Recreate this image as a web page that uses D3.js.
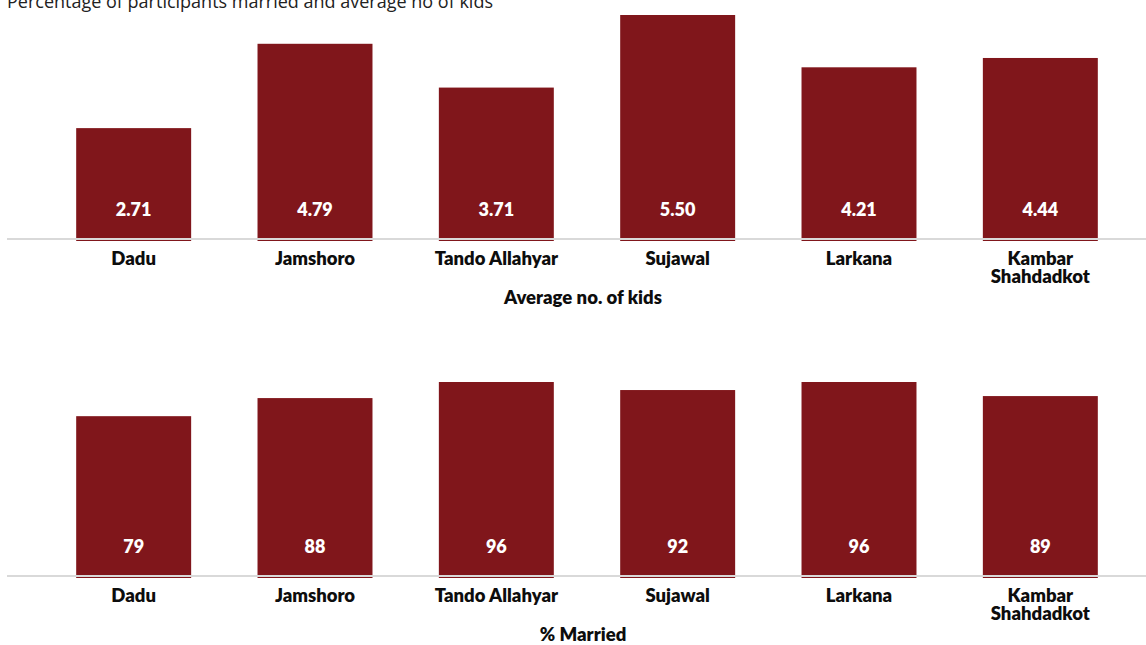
<!DOCTYPE html>
<html>
<head>
<meta charset="utf-8">
<script src="https://cdn.jsdelivr.net/npm/d3@7"></script>
<style>
  body { margin: 0; background: #fff; }
  svg { display: block; }
</style>
</head>
<body>
<svg id="chart"></svg>
<script>
// data
var districts = ["Dadu", "Jamshoro", "Tando Allahyar", "Sujawal", "Larkana", "Kambar Shahdadkot"]
var avgKids = [2.71, 4.79, 3.71, 5.50, 4.21, 4.44]
var pctMarried = [79, 88, 96, 92, 96, 89]
var titleText = "Percentage of participants married and average no of kids"

const width = 1146, height = 645
const barColor = "#80161b"
const labelFont = "Lato, 'Source Sans Pro', sans-serif"

const svg = d3.select("#chart")
  .attr("width", width)
  .attr("height", height)

// title, cut off at the top like in the original
svg.append("text")
  .attr("x", 7)
  .attr("y", 8)
  .attr("font-family", "'Open Sans', sans-serif")
  .attr("font-size", 18)
  .attr("fill", "#222")
  .text(titleText)

// shared x scale
const x = d3.scaleBand()
  .domain(districts)
  .range([43, 1131])
  .paddingInner(0.366)
  .paddingOuter(0.183)

function drawPanel(values, fmt, base, top, maxVal, axisTitle) {
  const y = d3.scaleLinear().domain([0, maxVal]).range([base, top])
  const g = svg.append("g")
  const rows = districts.map((d, i) => ({ name: d, value: values[i] }))

  // bars
  g.selectAll("rect.bar")
    .data(rows)
    .enter().append("rect")
    .attr("class", "bar")
    .attr("x", d => x(d.name))
    .attr("y", d => y(d.value))
    .attr("width", x.bandwidth())
    .attr("height", d => base - y(d.value) + 3)
    .attr("fill", barColor)

  // baseline
  g.append("rect")
    .attr("x", 7)
    .attr("y", base)
    .attr("width", width - 7)
    .attr("height", 2)
    .attr("fill", "#d9d9d9")

  // value labels inside bars
  g.selectAll("text.val")
    .data(rows)
    .enter().append("text")
    .attr("class", "val")
    .attr("x", d => x(d.name) + x.bandwidth() / 2)
    .attr("y", base - 22)
    .attr("text-anchor", "middle")
    .attr("font-family", labelFont)
    .attr("font-weight", 800)
    .attr("font-size", 18)
    .attr("fill", "#fff")
    .text(d => fmt(d.value))

  // category labels (wrap two-word name of Kambar Shahdadkot)
  const cats = g.selectAll("text.cat")
    .data(rows)
    .enter().append("text")
    .attr("class", "cat")
    .attr("x", d => x(d.name) + x.bandwidth() / 2)
    .attr("y", base + 27)
    .attr("text-anchor", "middle")
    .attr("font-family", labelFont)
    .attr("font-weight", 800)
    .attr("font-size", 18.5)
    .attr("fill", "#0d0d0d")

  cats.each(function(d) {
    const words = d.name === "Kambar Shahdadkot" ? d.name.split(" ") : [d.name]
    const t = d3.select(this)
    words.forEach((w, i) => {
      t.append("tspan")
        .attr("x", x(d.name) + x.bandwidth() / 2)
        .attr("dy", i === 0 ? 0 : 18)
        .text(w)
    })
  })

  // axis title
  g.append("text")
    .attr("x", 583)
    .attr("y", base + 66)
    .attr("text-anchor", "middle")
    .attr("font-family", labelFont)
    .attr("font-weight", 800)
    .attr("font-size", 18.5)
    .attr("fill", "#0d0d0d")
    .text(axisTitle)
}

drawPanel(avgKids, d3.format(".2f"), 238, 15, 5.5, "Average no. of kids")
drawPanel(pctMarried, d3.format("d"), 575, 382, 96, "% Married")
</script>
</body>
</html>
